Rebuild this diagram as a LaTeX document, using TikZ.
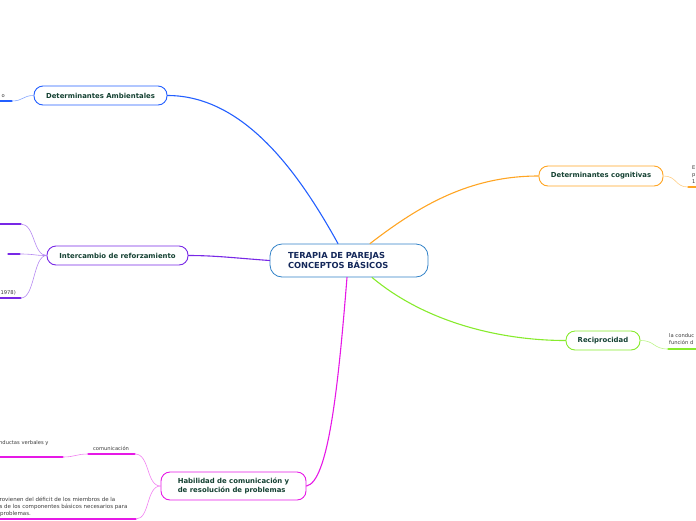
\documentclass[tikz,border=0pt]{standalone}
\usepackage{fontspec}
\setmainfont{DejaVu Sans}
\usetikzlibrary{positioning}
\definecolor{rootblue}{RGB}{50,130,200}
\definecolor{roottext}{RGB}{20,40,90}
\definecolor{topictext}{RGB}{20,65,50}
\definecolor{leaftext}{RGB}{60,60,60}
\definecolor{ambblue}{RGB}{35,95,255}
\definecolor{refpurple}{RGB}{120,40,230}
\definecolor{cogorange}{RGB}{255,165,35}
\definecolor{recgreen}{RGB}{135,235,45}
\definecolor{habmag}{RGB}{230,25,230}
\begin{document}
\begin{tikzpicture}[x=1pt, y=-1pt, line cap=round, line join=round,
    root/.style={draw=rootblue, line width=0.8pt, fill=white, rounded corners=12pt,
      text=roottext, font=\bfseries\fontsize{8.3}{10.5}\selectfont, align=left,
      text width=122pt, inner xsep=18pt, minimum height=33pt},
    topic/.style={line width=0.9pt, fill=white, rounded corners=9pt, text=topictext,
      font=\bfseries\fontsize{6.9}{9}\selectfont, minimum height=19pt},
    leaf/.style={text=leaftext, font=\fontsize{5.2}{7}\selectfont, inner sep=0pt, align=left},
    branch/.style={line width=1.1pt},
    twig/.style={line width=0.6pt},
    uline/.style={line width=1.2pt}]
  \useasboundingbox (0,0) rectangle (696,520);
  % central topic and main branches
  \node[root] (root) at (349,260.5) {TERAPIA DE PAREJAS\\CONCEPTOS BÁSICOS};
  \node[topic, draw=ambblue, minimum width=133pt] (amb) at (100.5,95.5) {Determinantes Ambientales};
  \node[topic, draw=refpurple, minimum width=141pt] (inter) at (117.5,255.5) {Intercambio de reforzamiento};
  \node[topic, draw=cogorange, minimum width=124pt, minimum height=20pt] (cog) at (601,176) {Determinantes cognitivas};
  \node[topic, draw=recgreen, minimum width=74pt] (reci) at (603,340.5) {Reciprocidad};
  \node[topic, draw=habmag, minimum width=145pt, minimum height=28pt, align=left] (hab) at (233.5,486)
    {Habilidad de comunicación y\\de resolución de problemas};
  \draw[branch, ambblue] ([xshift=-11pt]root.north) .. controls (300,175) and (245,95.5) .. (amb.east);
  \draw[branch, refpurple] (root.west) .. controls (235,258) and (215,255.5) .. (inter.east);
  \draw[branch, cogorange] ([xshift=21pt]root.north) .. controls (420,205) and (470,176) .. (cog.west);
  \draw[branch, recgreen] ([xshift=23pt]root.south) .. controls (425,322) and (500,340.5) .. (reci.west);
  \draw[branch, habmag] ([xshift=-2pt]root.south) .. controls (338,390) and (328,482) .. (hab.east);
  % Determinantes Ambientales
  \node[leaf, anchor=south east] (ambtxt) at (5,98) {o};
  \coordinate (amb1a) at (-1,101);
  \coordinate (amb1b) at (12,101);
  \draw[uline, ambblue] (amb1a) -- (amb1b);
  \draw[twig, ambblue!55] (amb1b) .. controls (23,101) and (23,95.5) .. (amb.west);
  % Intercambio de reforzamiento
  \foreach \i/\s/\e/\yy in {1/-1/21/224, 2/8/20/254, 3/-1/21/298} {
    \coordinate (int\i a) at (\s,\yy);
    \coordinate (int\i b) at (\e,\yy);
    \draw[uline, refpurple] (int\i a) -- (int\i b);
    \draw[twig, refpurple!55] (int\i b) .. controls (35,\yy) and (33,255.5) .. (inter.west);
  }
  \node[leaf, anchor=south east] (inttxt) at (16,295) {1978)};
  % Determinantes cognitivas
  \node[leaf, anchor=north west] (cogtxt) at (692,166) {E\\p\\1};
  \coordinate (cog1a) at (688,187);
  \coordinate (cog1b) at (697,187);
  \draw[uline, cogorange] (cog1a) -- (cog1b);
  \draw[twig, cogorange!55] (cog.east) .. controls (677,176) and (675,187) .. (cog1a);
  % Reciprocidad
  \node[leaf, anchor=north west] (recitxt) at (669,333.5) {la conduc\\función d};
  \coordinate (reci1a) at (668,349);
  \coordinate (reci1b) at (697,349);
  \draw[uline, recgreen] (reci1a) -- (reci1b);
  \draw[twig, recgreen!55] (reci.east) .. controls (655,340.5) and (653,349) .. (reci1a);
  % Habilidad de comunicacion
  \node[leaf] (habtxt1) at (111,448) {comunicación};
  \coordinate (hab1a) at (88,454);
  \coordinate (hab1b) at (135,454);
  \draw[uline, habmag] (hab1a) -- (hab1b);
  \draw[twig, habmag!55] (hab1b) .. controls (150,454) and (146,486) .. (hab.west);
  \node[leaf, anchor=south west] (habtxt2) at (-1,445.5) {nductas verbales y};
  \coordinate (hab2a) at (-1,457);
  \coordinate (hab2b) at (63,457);
  \draw[uline, habmag] (hab2a) -- (hab2b);
  \draw[twig, habmag!55] (hab2b) .. controls (75,457) and (76,454) .. (hab1a);
  \node[leaf, anchor=south west, font=\fontsize{5.5}{7}\selectfont] (habtxt3) at (-4,516.5)
    {provienen del déficit de los miembros de la\\os de los componentes básicos necesarios para\\\hspace*{4pt}problemas.};
  \coordinate (hab3a) at (-1,519);
  \coordinate (hab3b) at (136,519);
  \draw[uline, habmag] (hab3a) -- (hab3b);
  \draw[twig, habmag!55] (hab3b) .. controls (150,519) and (146,486) .. (hab.west);
\end{tikzpicture}
\end{document}
